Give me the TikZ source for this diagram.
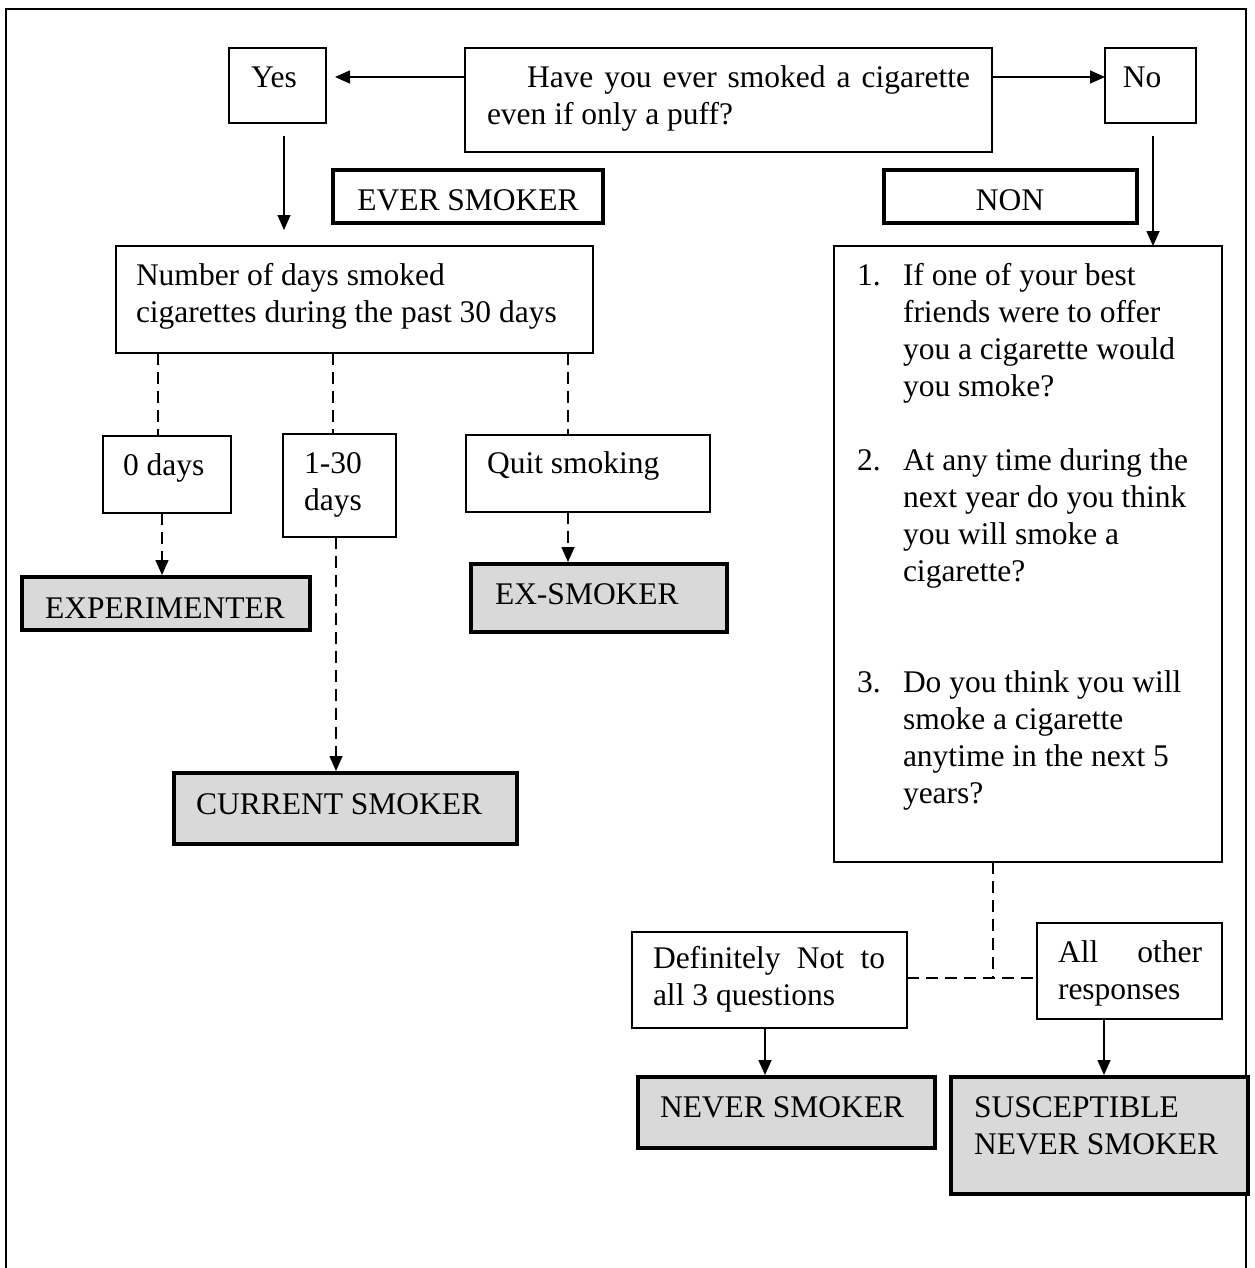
\documentclass[tikz,border=0pt]{standalone}
\usepackage{fontspec}
\setmainfont{Liberation Serif}
\usetikzlibrary{arrows.meta}
\begin{document}
\begin{tikzpicture}[x=1pt,y=-1pt,
  every node/.style={font=\fontsize{31.5}{37}\selectfont},
  box/.style={draw, line width=1.5pt, anchor=north west, inner sep=0pt, outer sep=0pt},
  tagbox/.style={box, line width=4pt},
  endbox/.style={box, line width=4pt, fill=black!15},
  txt/.style={anchor=base west, inner sep=0pt, outer sep=0pt},
  ctxt/.style={txt, anchor=base},
  arr/.style={line width=1.6pt, -{Triangle[length=15pt,width=13pt]}},
  darr/.style={arr, dash pattern=on 12pt off 7pt},
  dline/.style={line width=1.5pt, dash pattern=on 12pt off 7pt},
  frameline/.style={line width=2pt}
]
\useasboundingbox (0,0) rectangle (1254,1268);

% outer frame, open at the bottom
\draw[frameline] (6,1268) -- (6,9) -- (1246,9) -- (1246,1268);

% boxes
\node[box, minimum width=97pt, minimum height=75pt] (yes) at (229,48) {};
\node[box, minimum width=527pt, minimum height=104pt] (have) at (465,48) {};
\node[box, minimum width=91pt, minimum height=75pt] (no) at (1105,48) {};
\node[tagbox, minimum width=270pt, minimum height=53pt] (ever) at (333,170) {};
\node[tagbox, minimum width=253pt, minimum height=53pt] (non) at (884,170) {};
\node[box, minimum width=477pt, minimum height=107pt] (days) at (116,246) {};
\node[box, minimum width=388pt, minimum height=616pt] (q) at (834,246) {};
\node[box, minimum width=128pt, minimum height=77pt] (zero) at (103,436) {};
\node[box, minimum width=113pt, minimum height=103pt] (some) at (283,434) {};
\node[box, minimum width=244pt, minimum height=77pt] (quit) at (466,435) {};
\node[endbox, minimum width=288pt, minimum height=53pt] (exp) at (22,577) {};
\node[endbox, minimum width=256pt, minimum height=68pt] (ex) at (471,564) {};
\node[endbox, minimum width=343pt, minimum height=71pt] (cur) at (174,773) {};
\node[box, minimum width=275pt, minimum height=96pt] (def) at (632,932) {};
\node[box, minimum width=185pt, minimum height=96pt] (oth) at (1037,923) {};
\node[endbox, minimum width=297pt, minimum height=71pt] (never) at (638,1077) {};
\node[endbox, minimum width=297pt, minimum height=117pt] (sus) at (951,1077) {};

% texts
\node[ctxt] (yes-t) at (274,88) {Yes};
\node[ctxt] (no-t) at (1142,88) {No};
\node[txt] (have-t) at (487,88) {\parbox[t]{483pt}{\hspace*{40pt}Have you ever smoked a cigarette\linebreak even if only a puff?}};
\node[ctxt] (ever-t) at (468,210) {EVER SMOKER};
\node[ctxt] (non-t) at (1010,210) {NON};
\node[txt] (days-t) at (136,285) {\parbox[t]{470pt}{Number of days smoked\\cigarettes during the past 30 days}};
\node[txt] (zero-t) at (123,475) {0 days};
\node[ctxt] (some-t) at (333,473) {\parbox[t]{100pt}{\centering 1-30\\days}};
\node[txt] (quit-t) at (487,473) {Quit smoking};
\node[ctxt] (exp-t) at (165,618) {EXPERIMENTER};
\node[txt] (ex-t) at (495,604) {EX-SMOKER};
\node[txt] (cur-t) at (196,814) {CURRENT SMOKER};
\node[txt] (q-t) at (857,285) {\parbox[t]{360pt}{%
  \makebox[46pt][l]{1.}If one of your best\\
  \hspace*{46pt}friends were to offer\\
  \hspace*{46pt}you a cigarette would\\
  \hspace*{46pt}you smoke?\\[37pt]
  \makebox[46pt][l]{2.}At any time during the\\
  \hspace*{46pt}next year do you think\\
  \hspace*{46pt}you will smoke a\\
  \hspace*{46pt}cigarette?\\[74pt]
  \makebox[46pt][l]{3.}Do you think you will\\
  \hspace*{46pt}smoke a cigarette\\
  \hspace*{46pt}anytime in the next 5\\
  \hspace*{46pt}years?}};
\node[txt] (def-t) at (653,968) {\parbox[t]{232pt}{Definitely Not to\linebreak all 3 questions}};
\node[txt] (oth-t) at (1058,962) {\parbox[t]{144pt}{All other\linebreak responses}};
\node[txt] (never-t) at (660,1117) {NEVER SMOKER};
\node[txt] (sus-t) at (974,1117) {\parbox[t]{270pt}{SUSCEPTIBLE\\NEVER SMOKER}};

% connectors
\draw[arr, shorten >=9pt] (have.west |- 0,77) -- (yes.east |- 0,77);
\draw[arr] (have.east |- 0,77) -- (no.west |- 0,77);
\draw[arr, shorten <=13pt, shorten >=16pt] (yes.south -| 284,0) -- (days.north -| 284,0);
\draw[arr, shorten <=13pt] (no.south -| 1153,0) -- (q.north -| 1153,0);

\draw[dline] (days.south -| 158,0) -- (zero.north -| 158,0);
\draw[dline] (days.south -| 333,0) -- (some.north -| 333,0);
\draw[dline] (days.south -| 568,0) -- (quit.north -| 568,0);
\draw[darr, shorten >=2pt] (zero.south -| 162,0) -- (exp.north -| 162,0);
\draw[darr, shorten >=2pt] (some.south -| 336,0) -- (cur.north -| 336,0);
\draw[darr, shorten >=2pt] (quit.south -| 568,0) -- (ex.north -| 568,0);

\coordinate (split) at (993,978);
\draw[dline] (q.south -| split) -- (split);
\draw[dline] (def.east |- split) -- (oth.west |- split);
\draw[arr, shorten >=2pt] (def.south -| 765,0) -- (never.north -| 765,0);
\draw[arr, shorten >=2pt] (oth.south -| 1104,0) -- (sus.north -| 1104,0);
\end{tikzpicture}
\end{document}
